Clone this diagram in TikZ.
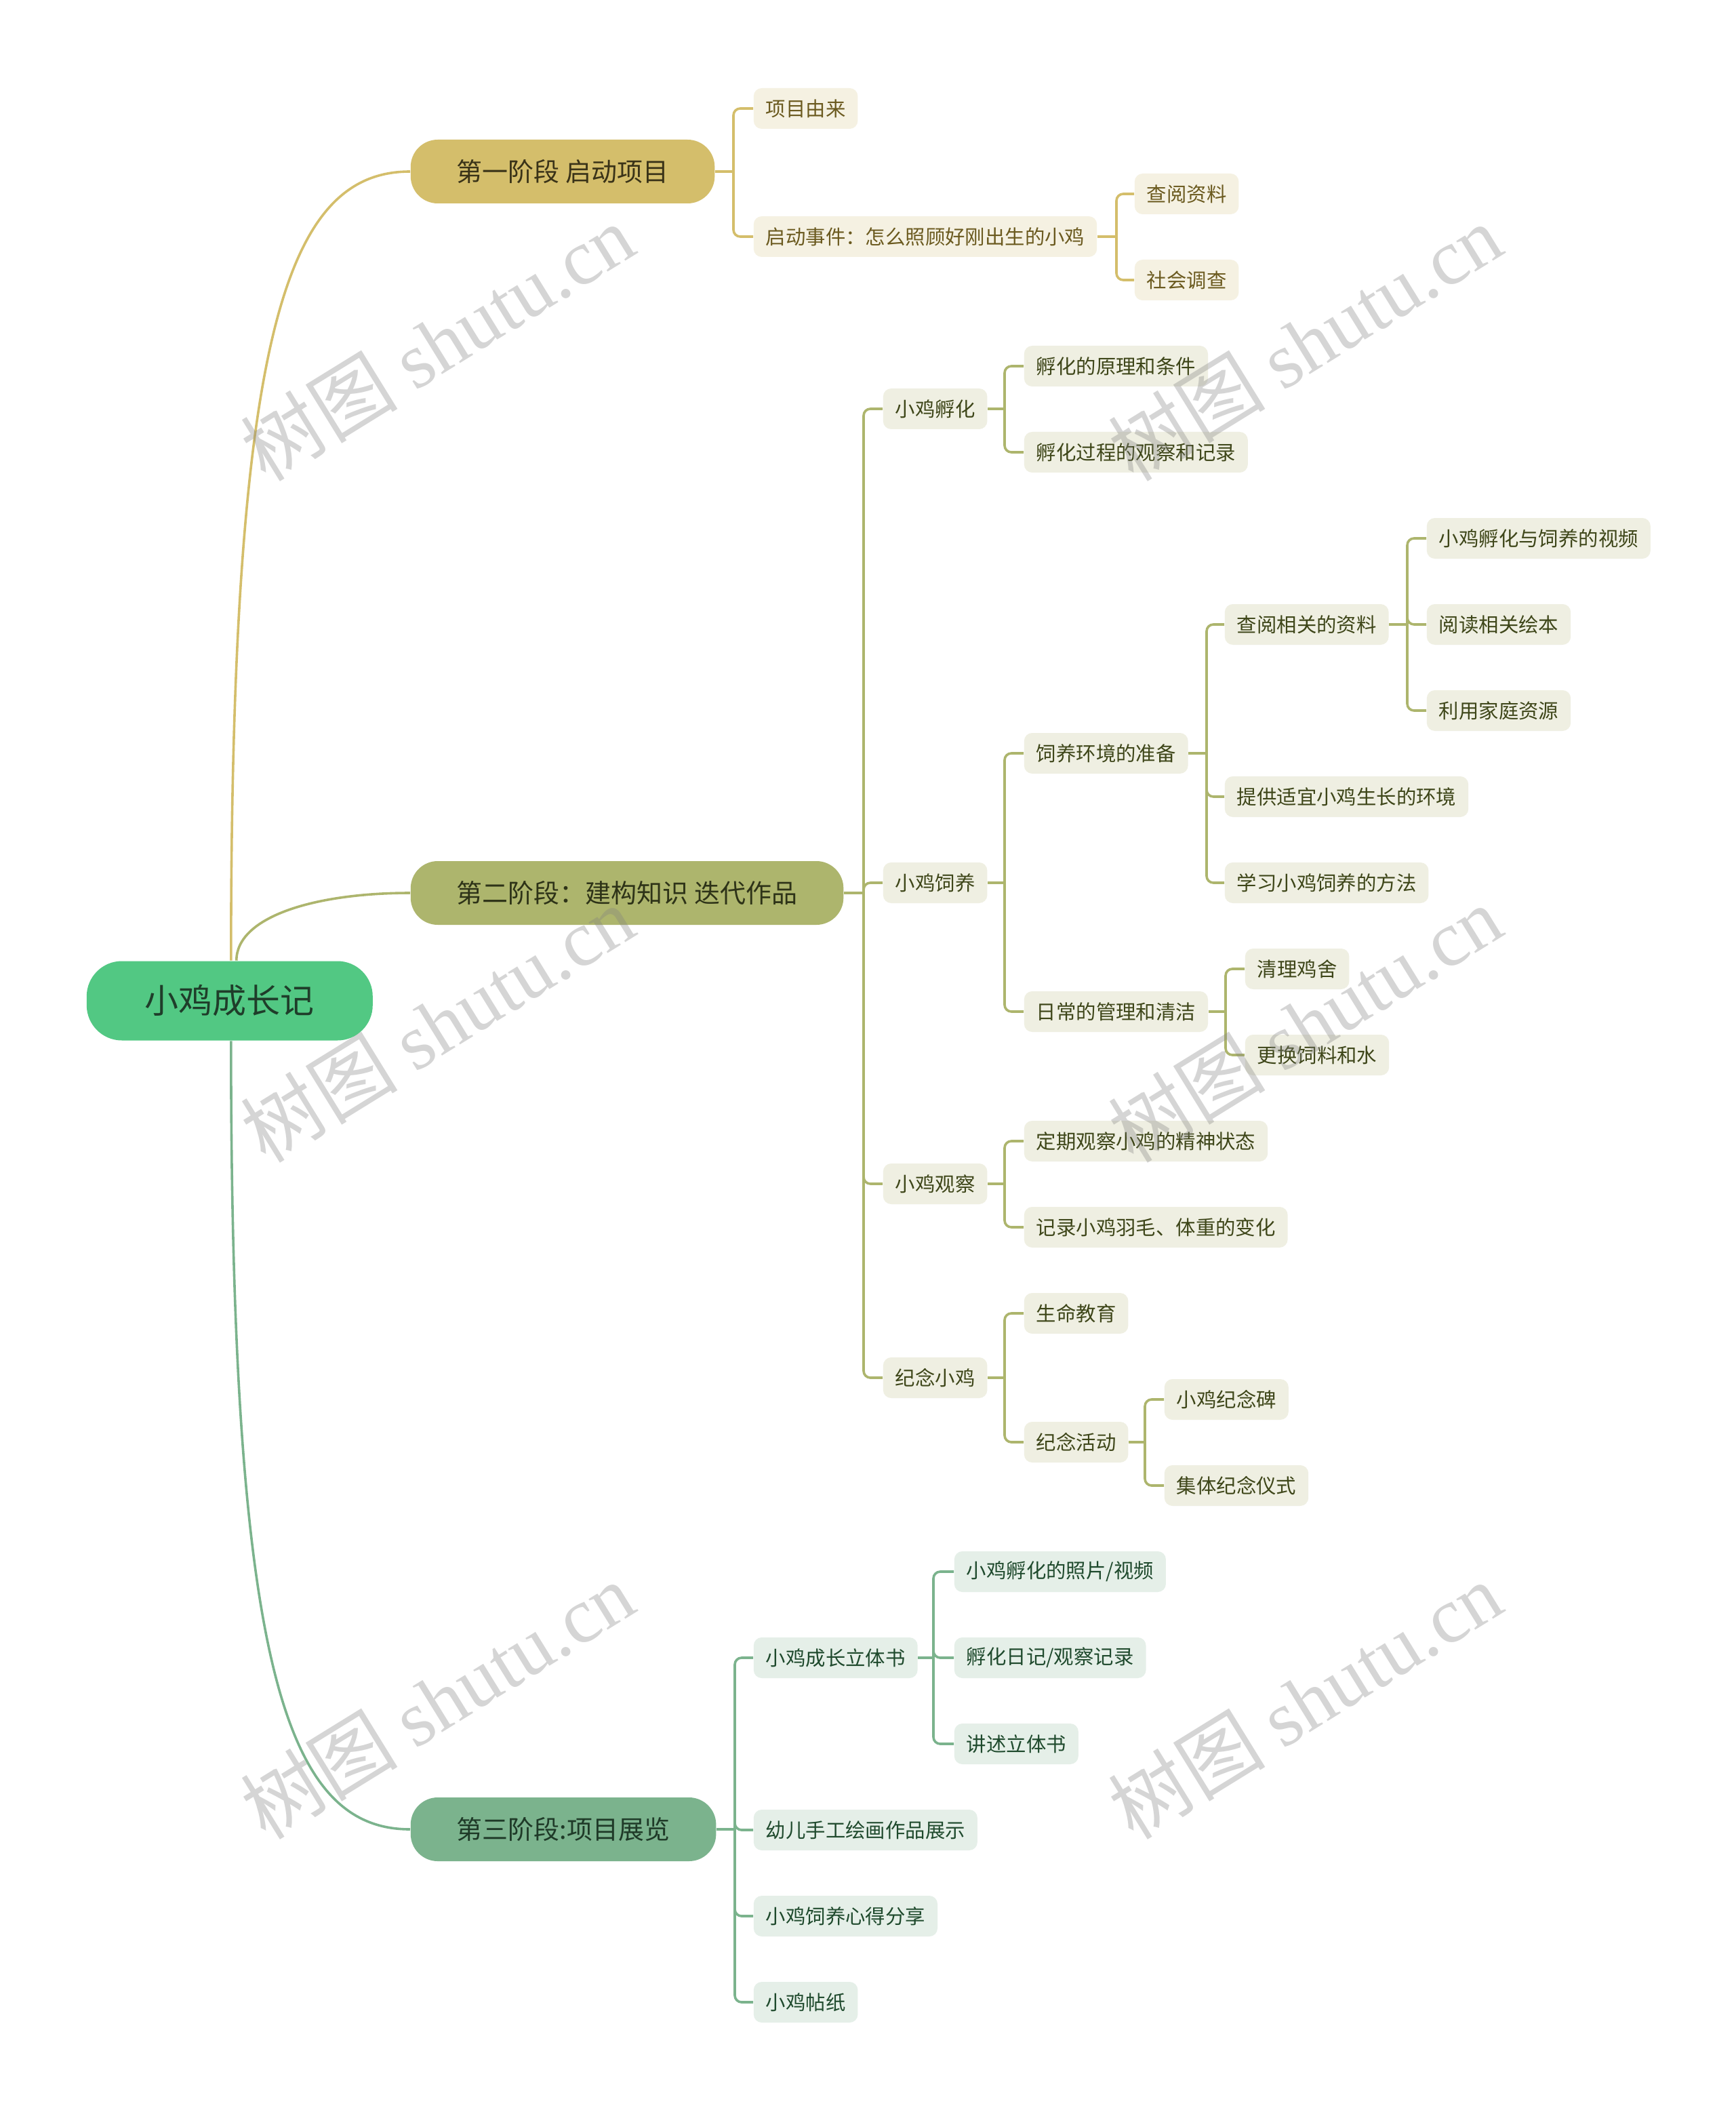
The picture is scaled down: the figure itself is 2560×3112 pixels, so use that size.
\documentclass[tikz,border=0pt]{standalone}
\usepackage{fontspec}
\setmainfont{Noto Sans CJK SC}
\newfontfamily\cjk{Noto Sans CJK SC}
\newfontfamily\wmfont{Liberation Serif}
\definecolor{rootc}{HTML}{52C883}
\definecolor{roottx}{HTML}{1F3D2A}
\definecolor{sA}{HTML}{D4BE6B}
\definecolor{sB}{HTML}{ADB56D}
\definecolor{sC}{HTML}{7BB38D}
\definecolor{sAtx}{HTML}{3A3318}
\definecolor{sBtx}{HTML}{2E3318}
\definecolor{sCtx}{HTML}{1F3A28}
\definecolor{lA}{HTML}{F5F1E2}
\definecolor{lB}{HTML}{EFEFE2}
\definecolor{lC}{HTML}{E5EFE8}
\definecolor{lAtx}{HTML}{6B5A1F}
\definecolor{lBtx}{HTML}{3E4619}
\definecolor{lCtx}{HTML}{1F4A2D}
\tikzset{
  rootnode/.style={rounded corners=13pt, fill=rootc, text=roottx, font=\fontsize{12.5pt}{15pt}\selectfont, inner xsep=21.5pt, inner ysep=0pt, minimum height=29.25pt, anchor=west},
  stagenode/.style={rounded corners=10pt, font=\fontsize{9.5pt}{12pt}\selectfont, inner xsep=17pt, inner ysep=0pt, minimum height=23.5pt, anchor=west},
  leafnode/.style={rounded corners=3pt, font=\fontsize{7.35pt}{9pt}\selectfont, inner xsep=4.5pt, inner ysep=0pt, minimum height=15pt, anchor=west},
  stA/.style={stagenode, fill=sA, text=sAtx},
  stB/.style={stagenode, fill=sB, text=sBtx},
  stC/.style={stagenode, fill=sC, text=sCtx},
  lfA/.style={leafnode, fill=lA, text=lAtx},
  lfB/.style={leafnode, fill=lB, text=lBtx},
  lfC/.style={leafnode, fill=lC, text=lCtx},
  cnA/.style={draw=sA, line width=0.9pt, rounded corners=2.5pt},
  cnB/.style={draw=sB, line width=0.9pt, rounded corners=2.5pt},
  cnC/.style={draw=sC, line width=0.9pt, rounded corners=2.5pt},
  wm/.style={rotate=31.7, text=gray, text opacity=0.33, font=\fontsize{29pt}{29pt}\selectfont},
}
\begin{document}
\begin{tikzpicture}[x=0.25pt, y=-0.25pt]
\useasboundingbox (0,0) rectangle (2560,3112);
\fill[white] (0,0) rectangle (2560,3112);

% root and stages
\node[rootnode] (root) at (127,1476) {小鸡成长记};
\node[stA] (s1) at (605,253) {第一阶段 启动项目};
\node[stB] (s2) at (605,1317) {第二阶段：建构知识 迭代作品};
\node[stC] (s3) at (605,2698) {第三阶段:项目展览};

% stage 1 leaves
\node[lfA] (a1) at (1111,160) {项目由来};
\node[lfA] (a2) at (1111,349) {启动事件：怎么照顾好刚出生的小鸡};
\node[lfA] (a21) at (1673,286) {查阅资料};
\node[lfA] (a22) at (1673,413) {社会调查};

% stage 2 leaves
\node[lfB] (b1) at (1302,603) {小鸡孵化};
\node[lfB] (b2) at (1302,1302) {小鸡饲养};
\node[lfB] (b3) at (1302,1746) {小鸡观察};
\node[lfB] (b4) at (1302,2032) {纪念小鸡};
\node[lfB] (b11) at (1510,540) {孵化的原理和条件};
\node[lfB] (b12) at (1510,667) {孵化过程的观察和记录};
\node[lfB] (b21) at (1510,1111) {饲养环境的准备};
\node[lfB] (b22) at (1510,1492) {日常的管理和清洁};
\node[lfB] (b211) at (1806,921) {查阅相关的资料};
\node[lfB] (b212) at (1806,1175) {提供适宜小鸡生长的环境};
\node[lfB] (b213) at (1806,1302) {学习小鸡饲养的方法};
\node[lfB] (b2111) at (2104,794) {小鸡孵化与饲养的视频};
\node[lfB] (b2112) at (2104,921) {阅读相关绘本};
\node[lfB] (b2113) at (2104,1048) {利用家庭资源};
\node[lfB] (b221) at (1836,1429) {清理鸡舍};
\node[lfB] (b222) at (1836,1556) {更换饲料和水};
\node[lfB] (b31) at (1510,1683) {定期观察小鸡的精神状态};
\node[lfB] (b32) at (1510,1810) {记录小鸡羽毛、体重的变化};
\node[lfB] (b41) at (1510,1937) {生命教育};
\node[lfB] (b42) at (1510,2127) {纪念活动};
\node[lfB] (b421) at (1717,2064) {小鸡纪念碑};
\node[lfB] (b422) at (1717,2191) {集体纪念仪式};

% stage 3 leaves
\node[lfC] (c1) at (1111,2445) {小鸡成长立体书};
\node[lfC] (c2) at (1111,2699) {幼儿手工绘画作品展示};
\node[lfC] (c3) at (1111,2826) {小鸡饲养心得分享};
\node[lfC] (c4) at (1111,2953) {小鸡帖纸};
\node[lfC] (c11) at (1407,2318) {小鸡孵化的照片/视频};
\node[lfC] (c12) at (1407,2445) {孵化日记/观察记录};
\node[lfC] (c13) at (1407,2572) {讲述立体书};

% root curves
\draw[draw=sA, line width=0.9pt] ([xshift=0.5pt]root.north) .. controls +(0,-917) and +(-185,0) .. (s1.west);
\draw[draw=sB, line width=0.9pt] ([xshift=2.5pt]root.north) .. controls +(0,-65) and +(-140,0) .. (s2.west);
\draw[draw=sC, line width=0.9pt] ([xshift=0.5pt]root.south) .. controls +(0,917) and +(-185,0) .. (s3.west);

% junctions
\coordinate (ja) at (1082,253);
\coordinate (ja2) at (1647,349);
\coordinate (jb) at (1274,1317);
\coordinate (jb1) at (1482,603);
\coordinate (jb2) at (1482,1302);
\coordinate (jb21) at (1780,1111);
\coordinate (jb211) at (2076,921);
\coordinate (jb22) at (1808,1492);
\coordinate (jb3) at (1482,1746);
\coordinate (jb4) at (1482,2032);
\coordinate (jb42) at (1689,2127);
\coordinate (jc) at (1084,2698);
\coordinate (jc1) at (1377,2445);

% stage 1 connectors
\draw[cnA] (s1.east) -- (ja);
\draw[cnA] (ja) |- (a1.west);
\draw[cnA] (ja) |- (a2.west);
\draw[cnA] (a2.east) -- (ja2);
\draw[cnA] (ja2) |- (a21.west);
\draw[cnA] (ja2) |- (a22.west);

% stage 2 connectors
\draw[cnB] (s2.east) -- (jb);
\foreach \n in {b1,b2,b3,b4} \draw[cnB] (jb) |- (\n.west);
\draw[cnB] (b1.east) -- (jb1);
\foreach \n in {b11,b12} \draw[cnB] (jb1) |- (\n.west);
\draw[cnB] (b2.east) -- (jb2);
\foreach \n in {b21,b22} \draw[cnB] (jb2) |- (\n.west);
\draw[cnB] (b21.east) -- (jb21);
\foreach \n in {b211,b212,b213} \draw[cnB] (jb21) |- (\n.west);
\draw[cnB] (b211.east) -- (jb211);
\foreach \n in {b2111,b2112,b2113} \draw[cnB] (jb211) |- (\n.west);
\draw[cnB] (b22.east) -- (jb22);
\foreach \n in {b221,b222} \draw[cnB] (jb22) |- (\n.west);
\draw[cnB] (b3.east) -- (jb3);
\foreach \n in {b31,b32} \draw[cnB] (jb3) |- (\n.west);
\draw[cnB] (b4.east) -- (jb4);
\foreach \n in {b41,b42} \draw[cnB] (jb4) |- (\n.west);
\draw[cnB] (b42.east) -- (jb42);
\foreach \n in {b421,b422} \draw[cnB] (jb42) |- (\n.west);

% stage 3 connectors
\draw[cnC] (s3.east) -- (jc);
\foreach \n in {c1,c2,c3,c4} \draw[cnC] (jc) |- (\n.west);
\draw[cnC] (c1.east) -- (jc1);
\foreach \n in {c11,c12,c13} \draw[cnC] (jc1) |- (\n.west);

% watermarks
\foreach \wx/\wy [count=\i] in {645/505, 1925/505, 645/1510, 1925/1510, 645/2508, 1925/2508}
  \node[wm] (wm\i) at (\wx,\wy) {{\cjk 树图} {\wmfont shutu.cn}};
\end{tikzpicture}
\end{document}
